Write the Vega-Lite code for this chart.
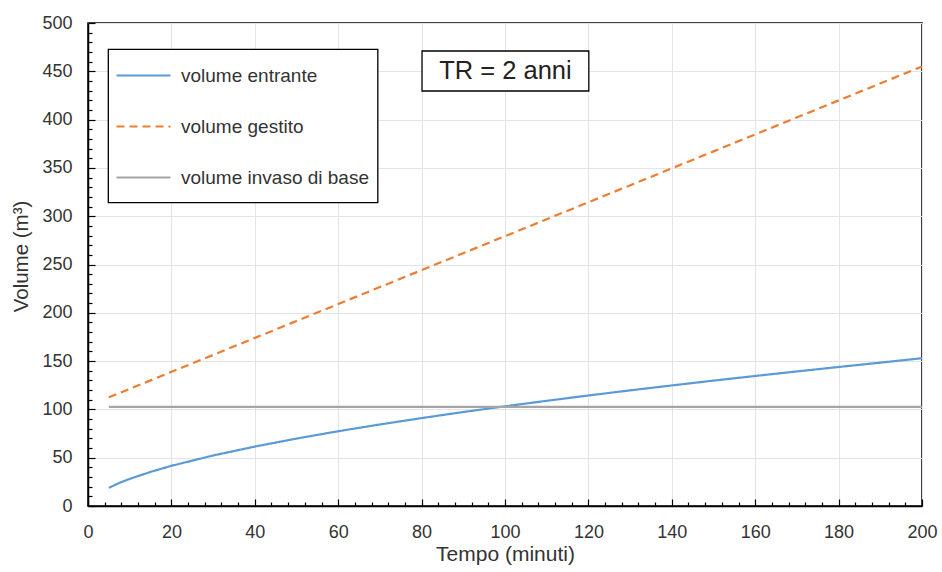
{
  "$schema": "https://vega.github.io/schema/vega-lite/v6.json",
  "width": 834,
  "height": 483,
  "autosize": {"type": "none"},
  "padding": {"left": 88, "top": 23, "right": 20, "bottom": 66},
  "background": "white",
  "config": {
    "view": {"stroke": "#000", "strokeWidth": 1.5},
    "font": "Liberation Sans",
    "axis": {
      "labelFont": "Liberation Sans",
      "titleFont": "Liberation Sans",
      "labelFontSize": 18,
      "titleFontSize": 20.5,
      "titleFontWeight": "normal",
      "labelColor": "#333",
      "titleColor": "#333",
      "domainColor": "#000",
      "domainWidth": 1.5,
      "tickColor": "#000",
      "tickWidth": 1.2,
      "gridColor": "#e4e4e4",
      "gridWidth": 1,
      "labelOverlap": false,
      "labelFlush": false
    },
    "axisX": {"labelPadding": 24.5, "titlePadding": -1, "titleFontSize": 21},
    "axisY": {"labelPadding": 23, "titlePadding": 10, "titleY": 233},
    "legend": {
      "labelFont": "Liberation Sans",
      "labelFontSize": 19,
      "labelColor": "#333",
      "labelLimit": 400
    }
  },
  "datasets": {
    "series": [
      {"tempo": 5, "volume": 18.8, "serie": "volume entrante"},
      {"tempo": 7.5, "volume": 23.9, "serie": "volume entrante"},
      {"tempo": 10, "volume": 28.1, "serie": "volume entrante"},
      {"tempo": 15, "volume": 35.3, "serie": "volume entrante"},
      {"tempo": 20, "volume": 41.6, "serie": "volume entrante"},
      {"tempo": 30, "volume": 52.3, "serie": "volume entrante"},
      {"tempo": 40, "volume": 61.5, "serie": "volume entrante"},
      {"tempo": 50, "volume": 69.8, "serie": "volume entrante"},
      {"tempo": 60, "volume": 77.4, "serie": "volume entrante"},
      {"tempo": 70, "volume": 84.4, "serie": "volume entrante"},
      {"tempo": 80, "volume": 91.0, "serie": "volume entrante"},
      {"tempo": 90, "volume": 97.3, "serie": "volume entrante"},
      {"tempo": 100, "volume": 103.2, "serie": "volume entrante"},
      {"tempo": 110, "volume": 108.9, "serie": "volume entrante"},
      {"tempo": 120, "volume": 114.4, "serie": "volume entrante"},
      {"tempo": 130, "volume": 119.7, "serie": "volume entrante"},
      {"tempo": 140, "volume": 124.8, "serie": "volume entrante"},
      {"tempo": 150, "volume": 129.8, "serie": "volume entrante"},
      {"tempo": 160, "volume": 134.6, "serie": "volume entrante"},
      {"tempo": 170, "volume": 139.3, "serie": "volume entrante"},
      {"tempo": 180, "volume": 143.9, "serie": "volume entrante"},
      {"tempo": 190, "volume": 148.4, "serie": "volume entrante"},
      {"tempo": 200, "volume": 153.0, "serie": "volume entrante"},
      {"tempo": 5, "volume": 112.5, "serie": "volume gestito"},
      {"tempo": 50, "volume": 191.5, "serie": "volume gestito"},
      {"tempo": 100, "volume": 279.3, "serie": "volume gestito"},
      {"tempo": 150, "volume": 367.1, "serie": "volume gestito"},
      {"tempo": 200, "volume": 455.0, "serie": "volume gestito"},
      {"tempo": 5, "volume": 102.7, "serie": "volume invaso di base"},
      {"tempo": 200, "volume": 102.7, "serie": "volume invaso di base"}
    ],
    "boxes": [
      {"x1": 4.87, "x2": 69.5, "y1": 314, "y2": 472.8},
      {"x1": 80.1, "x2": 120.1, "y1": 429.6, "y2": 471}
    ],
    "note": [
      {"tempo": 100.1, "volume": 450.3, "testo": "TR = 2 anni"}
    ]
  },
  "layer": [
    {
      "data": {"name": "series"},
      "mark": {"type": "line", "strokeWidth": 2.2, "clip": true},
      "encoding": {
        "x": {
          "field": "tempo",
          "type": "quantitative",
          "title": "Tempo (minuti)",
          "scale": {"domain": [0, 200], "nice": false},
          "axis": {
            "values": [0,4,8,12,16,20,24,28,32,36,40,44,48,52,56,60,64,68,72,76,80,84,88,92,96,100,104,108,112,116,120,124,128,132,136,140,144,148,152,156,160,164,168,172,176,180,184,188,192,196,200],
            "labelExpr": "datum.value % 20 === 0 ? datum.label : ''",
            "tickSize": {"condition": {"test": "datum.value % 20 === 0", "value": -7}, "value": -4},
            "gridOpacity": {"condition": {"test": "datum.value % 20 === 0", "value": 1}, "value": 0}
          }
        },
        "y": {
          "field": "volume",
          "type": "quantitative",
          "title": "Volume (m³)",
          "scale": {"domain": [0, 500], "nice": false},
          "axis": {
            "values": [0,10,20,30,40,50,60,70,80,90,100,110,120,130,140,150,160,170,180,190,200,210,220,230,240,250,260,270,280,290,300,310,320,330,340,350,360,370,380,390,400,410,420,430,440,450,460,470,480,490,500],
            "labelExpr": "datum.value % 50 === 0 ? datum.label : ''",
            "tickSize": {"condition": {"test": "datum.value % 50 === 0", "value": -7}, "value": -4},
            "gridOpacity": {"condition": {"test": "datum.value % 50 === 0", "value": 1}, "value": 0}
          }
        },
        "color": {
          "field": "serie",
          "type": "nominal",
          "scale": {
            "domain": ["volume entrante", "volume gestito", "volume invaso di base"],
            "range": ["#5B9BD5", "#ED7D31", "#A5A5A5"]
          },
          "legend": {
            "title": null,
            "orient": "none",
            "legendX": 27,
            "legendY": 24,
            "symbolType": "stroke",
            "symbolSize": 2916,
            "symbolStrokeWidth": 2.2,
            "labelOffset": 9,
            "rowPadding": 12,
            "padding": 0
          }
        },
        "strokeDash": {
          "field": "serie",
          "type": "nominal",
          "scale": {
            "domain": ["volume entrante", "volume gestito", "volume invaso di base"],
            "range": [[1, 0], [8, 5], [1, 0]]
          },
          "legend": {
            "title": null,
            "orient": "none",
            "legendX": 27,
            "legendY": 24,
            "symbolType": "stroke",
            "symbolSize": 2916,
            "symbolStrokeWidth": 2.2,
            "labelOffset": 9,
            "rowPadding": 12,
            "padding": 0
          }
        }
      }
    },
    {
      "data": {"name": "boxes"},
      "mark": {"type": "rect", "fill": "white", "stroke": "#000", "strokeWidth": 1.3},
      "encoding": {
        "x": {
          "field": "x1",
          "type": "quantitative",
          "title": "Tempo (minuti)",
          "axis": {
            "values": [0,4,8,12,16,20,24,28,32,36,40,44,48,52,56,60,64,68,72,76,80,84,88,92,96,100,104,108,112,116,120,124,128,132,136,140,144,148,152,156,160,164,168,172,176,180,184,188,192,196,200],
            "labelExpr": "datum.value % 20 === 0 ? datum.label : ''",
            "tickSize": {"condition": {"test": "datum.value % 20 === 0", "value": -7}, "value": -4},
            "gridOpacity": {"condition": {"test": "datum.value % 20 === 0", "value": 1}, "value": 0}
          }
        },
        "x2": {"field": "x2"},
        "y": {
          "field": "y1",
          "type": "quantitative",
          "title": "Volume (m³)",
          "axis": {
            "values": [0,10,20,30,40,50,60,70,80,90,100,110,120,130,140,150,160,170,180,190,200,210,220,230,240,250,260,270,280,290,300,310,320,330,340,350,360,370,380,390,400,410,420,430,440,450,460,470,480,490,500],
            "labelExpr": "datum.value % 50 === 0 ? datum.label : ''",
            "tickSize": {"condition": {"test": "datum.value % 50 === 0", "value": -7}, "value": -4},
            "gridOpacity": {"condition": {"test": "datum.value % 50 === 0", "value": 1}, "value": 0}
          }
        },
        "y2": {"field": "y2"}
      }
    },
    {
      "data": {"name": "note"},
      "mark": {"type": "text", "font": "Liberation Sans", "fontSize": 25.5, "color": "#222", "align": "center", "baseline": "middle"},
      "encoding": {
        "x": {
          "field": "tempo",
          "type": "quantitative",
          "title": "Tempo (minuti)",
          "axis": {
            "values": [0,4,8,12,16,20,24,28,32,36,40,44,48,52,56,60,64,68,72,76,80,84,88,92,96,100,104,108,112,116,120,124,128,132,136,140,144,148,152,156,160,164,168,172,176,180,184,188,192,196,200],
            "labelExpr": "datum.value % 20 === 0 ? datum.label : ''",
            "tickSize": {"condition": {"test": "datum.value % 20 === 0", "value": -7}, "value": -4},
            "gridOpacity": {"condition": {"test": "datum.value % 20 === 0", "value": 1}, "value": 0}
          }
        },
        "y": {
          "field": "volume",
          "type": "quantitative",
          "title": "Volume (m³)",
          "axis": {
            "values": [0,10,20,30,40,50,60,70,80,90,100,110,120,130,140,150,160,170,180,190,200,210,220,230,240,250,260,270,280,290,300,310,320,330,340,350,360,370,380,390,400,410,420,430,440,450,460,470,480,490,500],
            "labelExpr": "datum.value % 50 === 0 ? datum.label : ''",
            "tickSize": {"condition": {"test": "datum.value % 50 === 0", "value": -7}, "value": -4},
            "gridOpacity": {"condition": {"test": "datum.value % 50 === 0", "value": 1}, "value": 0}
          }
        },
        "text": {"field": "testo"}
      }
    }
  ]
}
